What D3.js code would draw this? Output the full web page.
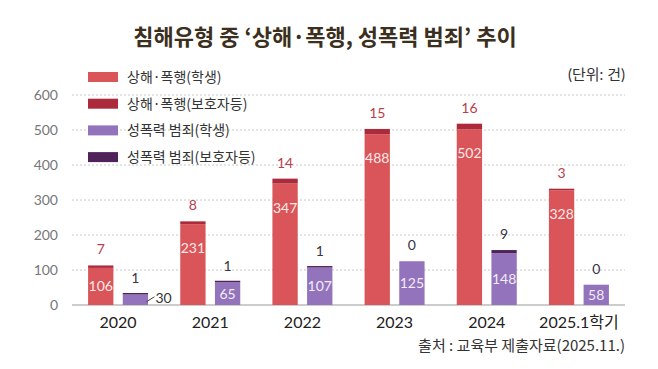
<!DOCTYPE html>
<html>
<head>
<meta charset="utf-8">
<script src="https://cdn.jsdelivr.net/npm/d3@7"></script>
<style>
  body { margin: 0; background: #fff; }
  svg { display: block; font-family: Lato, "Noto Sans CJK KR", sans-serif; }
</style>
</head>
<body>
<div id="chart"></div>
<script>
// 데이터
const years = ["2020", "2021", "2022", "2023", "2024", "2025.1학기"];
const assaultStudent = [106, 231, 347, 488, 502, 328];
const assaultGuardian = [7, 8, 14, 15, 16, 3];
const sexualStudent = [30, 65, 107, 125, 148, 58];
const sexualGuardian = [1, 1, 1, 0, 9, 0];
const yTicks = [0, 100, 200, 300, 400, 500, 600];
const legendLabels = ["상해·폭행(학생)", "상해·폭행(보호자등)", "성폭력 범죄(학생)", "성폭력 범죄(보호자등)"];

const colors = ["#d9555a", "#ab2a3b", "#9373bb", "#4f2359"];

const width = 658, height = 369;
const svg = d3.select("#chart").append("svg")
    .attr("width", width)
    .attr("height", height);

const x = d3.scaleBand().domain(years).range([72, 625]).padding(0);
const x1 = d3.scaleBand().domain(["a", "s"]).range([-30, 30]).paddingInner(0.27);
const y = d3.scaleLinear().domain([0, 600]).range([305, 95]);

// 제목
svg.append("text")
    .attr("x", 325).attr("y", 45)
    .attr("text-anchor", "middle")
    .style("font-family", "'Noto Sans CJK KR'")
    .style("font-weight", "bold")
    .style("font-size", "22px")
    .attr("fill", "#3b2f20")
    .text("침해유형 중 ‘상해·폭행, 성폭력 범죄’ 추이");

// 단위
svg.append("text")
    .attr("x", 625).attr("y", 80)
    .attr("text-anchor", "end")
    .style("font-size", "15px")
    .attr("fill", "#333")
    .text("(단위: 건)");

// 그리드
svg.append("g").selectAll("line")
    .data(yTicks.filter(d => d > 0))
    .join("line")
    .attr("x1", 72).attr("x2", 625)
    .attr("y1", d => y(d)).attr("y2", d => y(d))
    .attr("stroke", "#c8c8c8")
    .attr("stroke-dasharray", "2,2");

svg.append("line")
    .attr("x1", 72).attr("x2", 625)
    .attr("y1", y(0)).attr("y2", y(0))
    .attr("stroke", "#bbb")
    .attr("stroke-width", 1.5);

// y축 라벨
svg.append("g").selectAll("text")
    .data(yTicks)
    .join("text")
    .attr("x", 58).attr("y", d => y(d) + 5)
    .attr("text-anchor", "end")
    .style("font-size", "14px")
    .attr("fill", "#777")
    .text(d => d);

// 막대
const groups = svg.append("g").selectAll("g")
    .data(years)
    .join("g")
    .attr("transform", d => `translate(${x(d) + x.bandwidth() / 2},0)`);

function seg(g, key, lo, hi, color) {
    let top = y(hi), h = y(lo) - y(hi);
    if (hi > lo && h < 1.5) { h = 1.5; top = y(lo) - h; }
    g.append("rect")
        .attr("x", x1(key))
        .attr("width", x1.bandwidth())
        .attr("y", top)
        .attr("height", h)
        .attr("fill", color);
}

groups.each(function (d, i) {
    const g = d3.select(this);
    const a = assaultStudent[i], ag = assaultGuardian[i];
    const s = sexualStudent[i], sg = sexualGuardian[i];
    const ac = x1("a") + x1.bandwidth() / 2;
    const sc = x1("s") + x1.bandwidth() / 2;

    seg(g, "a", 0, a, colors[0]);
    seg(g, "a", a, a + ag, colors[1]);
    seg(g, "s", 0, s, colors[2]);
    seg(g, "s", s, s + sg, colors[3]);

    // 막대 안 라벨 (상해·폭행)
    const aLabelY = Math.min(y(a) + 24, (y(a) + y(0)) / 2);
    g.append("text")
        .attr("x", ac).attr("y", aLabelY + 5)
        .attr("text-anchor", "middle")
        .style("font-size", "14px")
        .attr("fill", "#fde9e6")
        .text(a);

    // 성폭력 라벨
    if (s >= 50) {
        g.append("text")
            .attr("x", sc).attr("y", (y(s) + y(0)) / 2 + 5)
            .attr("text-anchor", "middle")
            .style("font-size", "14px")
            .attr("fill", "#f1ecf8")
            .text(s);
    } else {
        g.append("line")
            .attr("x1", sc + 11).attr("y1", y(s / 2) + 2)
            .attr("x2", sc + 19).attr("y2", y(s / 2) - 3)
            .attr("stroke", "#444");
        g.append("text")
            .attr("x", sc + 20).attr("y", y(s / 2) + 3)
            .style("font-size", "14px")
            .attr("fill", "#333")
            .text(s);
    }

    // 위쪽 라벨
    g.append("text")
        .attr("x", ac).attr("y", y(a + ag) - 11)
        .attr("text-anchor", "middle")
        .style("font-size", "14px")
        .attr("fill", "#b8404c")
        .text(ag);
    g.append("text")
        .attr("x", sc).attr("y", y(s + sg) - 11)
        .attr("text-anchor", "middle")
        .style("font-size", "14px")
        .attr("fill", "#3a3346")
        .text(sg);

    // x축 라벨
    g.append("text")
        .attr("x", 0).attr("y", 328)
        .attr("text-anchor", "middle")
        .style("font-size", "16px")
        .attr("fill", "#222")
        .text(d);
});

// 범례
const legend = svg.append("g").selectAll("g")
    .data(legendLabels)
    .join("g")
    .attr("transform", (d, i) => `translate(88,${77 + i * 26.7})`);
legend.append("rect")
    .attr("x", 0).attr("y", -5)
    .attr("width", 30).attr("height", 10)
    .attr("fill", (d, i) => colors[i]);
legend.append("text")
    .attr("x", 39).attr("y", 5)
    .style("font-family", "'Noto Sans CJK KR'")
    .style("font-size", "14px")
    .attr("fill", "#333")
    .text(d => d);

// 출처
svg.append("text")
    .attr("x", 625).attr("y", 351)
    .attr("text-anchor", "end")
    .style("font-family", "'Noto Sans CJK KR'")
    .style("font-size", "15px")
    .attr("fill", "#333")
    .text("출처 : 교육부 제출자료(2025.11.)");
</script>
</body>
</html>
